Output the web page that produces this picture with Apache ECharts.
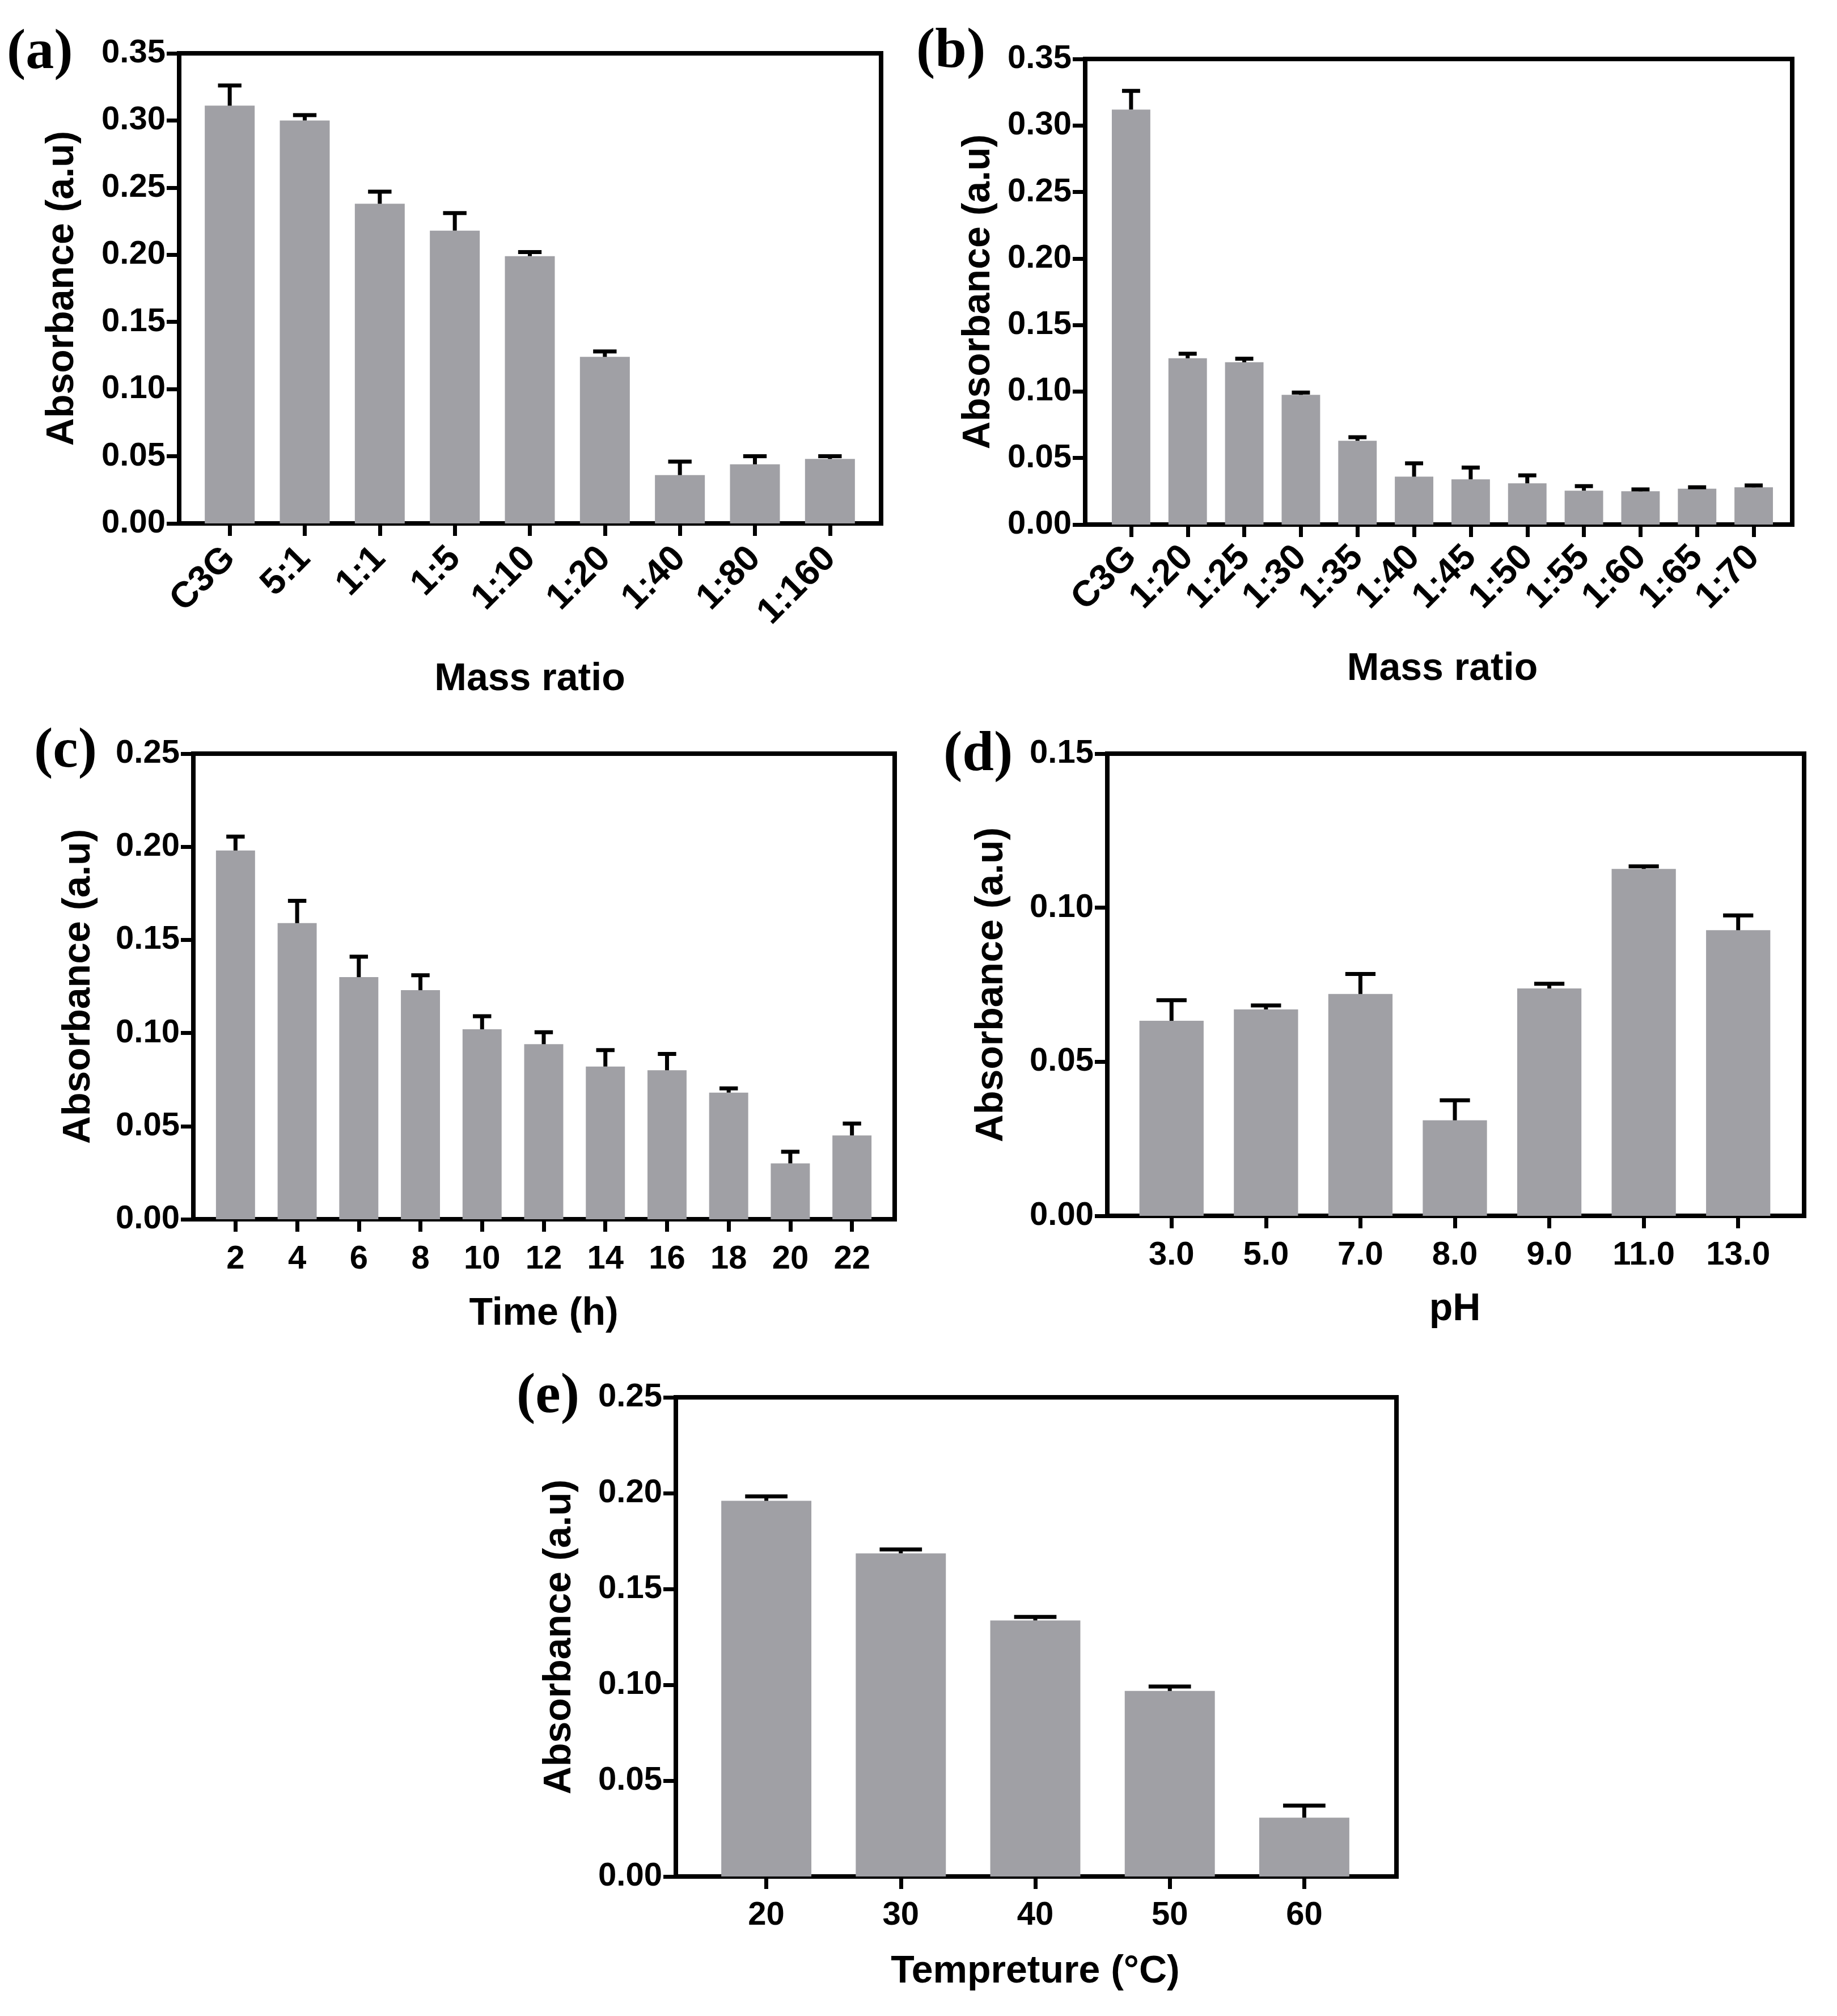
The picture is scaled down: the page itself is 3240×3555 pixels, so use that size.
<!DOCTYPE html>
<html>
<head>
<meta charset="utf-8">
<title>Absorbance</title>
<script src="https://cdn.jsdelivr.net/npm/echarts@6/dist/echarts.min.js"></script>
<style>
html, body { margin: 0; padding: 0; background: #fff; }
#main { width: 3240px; height: 3555px; }
</style>
</head>
<body>
<div id="main"></div>
<script>
// (a) mass ratio
var catsA = ['C3G', '5:1', '1:1', '1:5', '1:10', '1:20', '1:40', '1:80', '1:160'];
var valsA = [0.311, 0.300, 0.238, 0.218, 0.199, 0.124, 0.036, 0.044, 0.048];
var errsA = [0.015, 0.004, 0.009, 0.013, 0.003, 0.004, 0.010, 0.006, 0.002];

// (b) mass ratio, finer
var catsB = ['C3G', '1:20', '1:25', '1:30', '1:35', '1:40', '1:45', '1:50', '1:55', '1:60', '1:65', '1:70'];
var valsB = [0.312, 0.125, 0.122, 0.0975, 0.063, 0.036, 0.034, 0.031, 0.0255, 0.025, 0.027, 0.028];
var errsB = [0.014, 0.0034, 0.0027, 0.0017, 0.0027, 0.010, 0.0088, 0.006, 0.0034, 0.0014, 0.001, 0.0014];

// (c) time
var catsC = ['2', '4', '6', '8', '10', '12', '14', '16', '18', '20', '22'];
var valsC = [0.198, 0.159, 0.130, 0.123, 0.102, 0.094, 0.082, 0.080, 0.068, 0.030, 0.045];
var errsC = [0.0075, 0.012, 0.011, 0.008, 0.007, 0.0064, 0.0088, 0.0088, 0.0023, 0.0062, 0.0064];

// (d) pH
var catsD = ['3.0', '5.0', '7.0', '8.0', '9.0', '11.0', '13.0'];
var valsD = [0.0633, 0.067, 0.072, 0.031, 0.0738, 0.1126, 0.0927];
var errsD = [0.0067, 0.0013, 0.0065, 0.0065, 0.0015, 0.0008, 0.0048];

// (e) temperature
var catsE = ['20', '30', '40', '50', '60'];
var valsE = [0.196, 0.1686, 0.1336, 0.0968, 0.0307];
var errsE = [0.0023, 0.002, 0.0018, 0.0023, 0.0063];

// y tick values
var ticksAB = [0, 0.05, 0.10, 0.15, 0.20, 0.25, 0.30, 0.35];
var ticksCE = [0, 0.05, 0.10, 0.15, 0.20, 0.25];
var ticksD = [0, 0.05, 0.10, 0.15];

var FONT = "'Liberation Sans', Arial, Helvetica, sans-serif";
var SERIF = "'Liberation Serif', 'Times New Roman', serif";
var BAR_COLOR = '#a0a0a5';

// box = [left, top, right, bottom] of the framed plot, pad = inner gap left/right
var panels = [
    {label: '(a)', lx: 12, ly: 44, box: [316, 94, 1554, 923], pad: [23, 24], cats: catsA, vals: valsA, errs: errsA,
        ticks: ticksAB, xName: 'Mass ratio', xGap: 241, yGap: 172, rotate: 45, lMargin: 52, gap: 0.335},
    {label: '(b)', lx: 1616, ly: 42, box: [1914, 104, 3161, 925], pad: [31, 18], cats: catsB, vals: valsB, errs: errsB,
        ticks: ticksAB, xName: 'Mass ratio', xGap: 221, yGap: 154, rotate: 45, lMargin: 48, gap: 0.32},
    {label: '(c)', lx: 60, ly: 1276, box: [341, 1329, 1578, 2150], pad: [20, 21], cats: catsC, vals: valsC, errs: errsC,
        ticks: ticksCE, xName: 'Time (h)', xGap: 133, yGap: 168, rotate: 0, lMargin: 42, gap: 0.366},
    {label: '(d)', lx: 1664, ly: 1282, box: [1953, 1329, 3182, 2144], pad: [30, 33], cats: catsD, vals: valsD, errs: errsD,
        ticks: ticksD, xName: 'pH', xGap: 131, yGap: 170, rotate: 0, lMargin: 41, gap: 0.32},
    {label: '(e)', lx: 911, ly: 2414, box: [1192, 2464, 2463, 3309], pad: [41, 44], cats: catsE, vals: valsE, errs: errsE,
        ticks: ticksCE, xName: 'Tempreture (°C)', xGap: 134, yGap: 171, rotate: 0, lMargin: 40, gap: 0.33}
];

function errRender(gapRatio) {
    return function (params, api) {
        var x = api.value(0), v = api.value(1), e = api.value(2);
        var p0 = api.coord([x, v]);
        var p1 = api.coord([x, v + e]);
        var cw = api.size([1, 0])[0] * (1 - gapRatio) * 0.47;
        var st = {stroke: '#000', lineWidth: 7};
        return {
            type: 'group',
            children: [
                {type: 'line', shape: {x1: p0[0], y1: p0[1], x2: p1[0], y2: p1[1]}, style: st},
                {type: 'line', shape: {x1: p1[0] - cw / 2, y1: p1[1], x2: p1[0] + cw / 2, y2: p1[1]}, style: st}
            ]
        };
    };
}

var grids = [], xAxes = [], yAxes = [], series = [], graphics = [];

panels.forEach(function (p, i) {
    var L = p.box[0], T = p.box[1], W = p.box[2] - p.box[0], H = p.box[3] - p.box[1];
    var outer = grids.length, inner = outer + 1;

    // frame
    grids.push({left: L, top: T, width: W, height: H, show: true, borderColor: '#000', borderWidth: 8,
        backgroundColor: 'transparent'});
    // data area, a little inset from the frame
    grids.push({left: L + p.pad[0], top: T, width: W - p.pad[0] - p.pad[1], height: H});

    xAxes.push({gridIndex: outer, type: 'category', data: [''], show: false});
    yAxes.push({gridIndex: outer, type: 'value', show: false});

    xAxes.push({
        gridIndex: inner,
        type: 'category',
        data: p.cats,
        axisLine: {show: true, lineStyle: {color: '#000', width: 8}},
        axisTick: {show: true, alignWithLabel: true, interval: 0, length: 22, lineStyle: {color: '#000', width: 7}},
        axisLabel: {interval: 0, rotate: p.rotate, margin: p.lMargin, color: '#000', fontFamily: FONT,
            fontWeight: 'bold', fontSize: p.rotate ? 64 : 58},
        name: p.xName,
        nameLocation: 'middle',
        nameGap: p.xGap,
        nameTextStyle: {color: '#000', fontFamily: FONT, fontWeight: 'bold', fontSize: 68}
    });

    var tk = p.ticks;
    yAxes.push({
        gridIndex: inner,
        type: 'value',
        min: tk[0],
        max: tk[tk.length - 1],
        interval: tk[1] - tk[0],
        offset: p.pad[0],
        axisLine: {show: true, lineStyle: {color: '#000', width: 8}},
        axisTick: {show: true, length: 22, lineStyle: {color: '#000', width: 7}},
        axisLabel: {margin: 24, color: '#000', fontFamily: FONT, fontWeight: 'bold', fontSize: 58,
            formatter: function (v) { return v.toFixed(2); }},
        splitLine: {show: false},
        name: 'Absorbance (a.u)',
        nameLocation: 'middle',
        nameGap: p.yGap,
        nameTextStyle: {color: '#000', fontFamily: FONT, fontWeight: 'bold', fontSize: 68}
    });

    series.push({
        type: 'bar',
        xAxisIndex: inner,
        yAxisIndex: inner,
        data: p.vals,
        barCategoryGap: (p.gap * 100) + '%',
        itemStyle: {color: BAR_COLOR},
        silent: true
    });

    series.push({
        type: 'custom',
        xAxisIndex: inner,
        yAxisIndex: inner,
        data: p.vals.map(function (v, k) { return [k, v, p.errs[k]]; }),
        encode: {x: 0, y: 1},
        renderItem: errRender(p.gap),
        z: 3,
        silent: true
    });

    graphics.push({
        type: 'text',
        left: p.lx,
        top: p.ly,
        style: {text: p.label, font: 'bold 100px ' + SERIF, fill: '#000'}
    });
});

var myChart = echarts.init(document.getElementById('main'));
myChart.setOption({
    backgroundColor: '#fff',
    animation: false,
    grid: grids,
    xAxis: xAxes,
    yAxis: yAxes,
    series: series,
    graphic: graphics
});
</script>
</body>
</html>
